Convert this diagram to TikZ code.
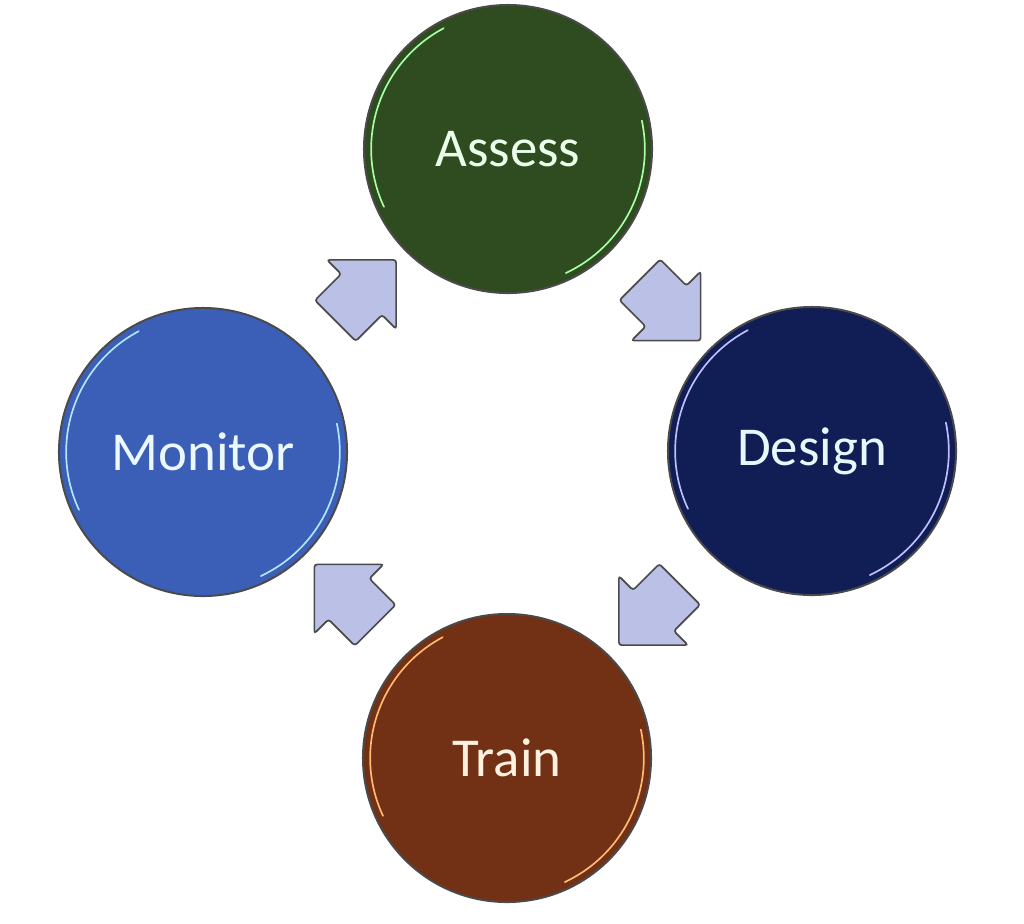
\documentclass[tikz,border=0pt]{standalone}
\usepackage{fontspec}
\setmainfont{Carlito}
\usetikzlibrary{calc,shapes.arrows}

\definecolor{assessgreen}{HTML}{2E4C1F}
\definecolor{designblue}{HTML}{111E56}
\definecolor{trainbrown}{HTML}{723115}
\definecolor{monitorblue}{HTML}{3B5EB6}
\definecolor{rimgray}{HTML}{4A4A4A}
\definecolor{arrowfill}{HTML}{BAC0E6}

\begin{document}
\begin{tikzpicture}[x=0.025cm,y=-0.025cm,
  stage/.style={circle,minimum size=7.2cm,inner sep=0pt,draw=rimgray,line width=1.4pt,
    font=\fontsize{39}{44}\selectfont},
  flow/.style={single arrow,draw=rimgray,fill=arrowfill,line width=1.2pt,rounded corners=2pt,
    inner xsep=0pt,inner ysep=0.7cm,minimum height=2.15cm,minimum width=0pt,single arrow head extend=0.5cm},
  gloss/.style={line width=1.2pt,line cap=round}]
\useasboundingbox (0,0) rectangle (1024,923);

\node[stage,fill=assessgreen,text=green!8!white] (assess) at (508,149) {Assess};
\node[stage,fill=designblue,text=cyan!10!white] (design) at (812,451) {Design};
\node[stage,fill=trainbrown,text=orange!12!white] (train) at (507,758) {Train};
\node[stage,fill=monitorblue,text=cyan!8!white] (monitor) at (203,452) {Monitor};

% glossy rim highlights
\foreach \n/\h in {assess/green!35!white,design/blue!25!white,train/orange!55!white,monitor/cyan!30!white}{
	\draw[gloss,\h] (\n.center) ++(118:3.42cm) arc[start angle=118,end angle=205,radius=3.42cm];
	\draw[gloss,\h] (\n.center) ++(295:3.42cm) arc[start angle=295,end angle=372,radius=3.42cm];}

\node[flow,rotate=-45] (ad) at ($(assess)!0.5!(design)$) {};
\node[flow,rotate=-135] (dt) at ($(design)!0.5!(train)$) {};
\node[flow,rotate=135] (tm) at ($(train)!0.5!(monitor)$) {};
\node[flow,rotate=45] (ma) at ($(monitor)!0.5!(assess)$) {};
\end{tikzpicture}
\end{document}
